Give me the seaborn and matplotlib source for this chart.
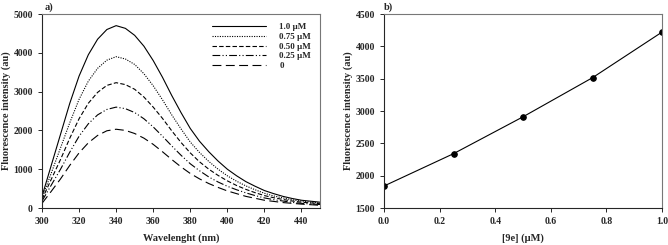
import numpy as np
import pandas as pd
import seaborn as sns
import matplotlib.pyplot as plt

###### data ######
wavelength = list(range(300, 451, 5))
conc_labels = ['1.0 µM', '0.75 µM', '0.50 µM', '0.25 µM', '0']
i_100 = [300, 1100, 1900, 2700, 3400, 3950, 4350, 4600, 4700, 4630, 4450, 4170, 3800, 3370, 2900, 2460,
         2050, 1720, 1450, 1210, 1000, 830, 680, 560, 450, 370, 300, 245, 200, 175, 150]
i_075 = [250, 900, 1550, 2200, 2800, 3270, 3600, 3810, 3900, 3840, 3700, 3460, 3150, 2790, 2400, 2040,
         1700, 1430, 1200, 1000, 830, 690, 570, 470, 380, 310, 260, 210, 180, 150, 130]
i_050 = [220, 740, 1250, 1800, 2300, 2700, 2980, 3160, 3230, 3180, 3060, 2860, 2600, 2310, 1990, 1690,
         1420, 1190, 1000, 840, 700, 580, 480, 395, 320, 265, 220, 180, 150, 130, 110]
i_025 = [180, 590, 1000, 1440, 1850, 2170, 2400, 2540, 2600, 2560, 2460, 2300, 2090, 1850, 1600, 1360,
         1140, 960, 800, 670, 560, 470, 390, 320, 260, 215, 180, 145, 120, 105, 90]
i_000 = [120, 430, 750, 1100, 1420, 1680, 1870, 1990, 2030, 2000, 1920, 1800, 1640, 1450, 1250, 1060,
         890, 750, 630, 530, 440, 370, 300, 250, 200, 170, 140, 120, 100, 85, 70]

conc = [0.0, 0.25, 0.5, 0.75, 1.0]
peak = [1840, 2340, 2910, 3515, 4220]

spec = pd.DataFrame({
    'wl': wavelength * 5,
    'F': i_100 + i_075 + i_050 + i_025 + i_000,
    'conc': sum([[c] * len(wavelength) for c in conc_labels], []),
})
titr = pd.DataFrame({'c': conc, 'F': peak})

###### style ######
sns.set_style('ticks')
plt.rcParams.update({
    'font.family': ['Liberation Serif', 'DejaVu Serif'],
    'font.weight': 'bold',
    'axes.labelweight': 'bold',
    'font.size': 7,
    'axes.linewidth': 0.8,
    'xtick.major.size': 3,
    'ytick.major.size': 3,
    'xtick.major.width': 0.7,
    'ytick.major.width': 0.7,
})

fig = plt.figure(figsize=(6.68, 2.45), dpi=100)
ax1 = fig.add_axes([42/668, 1 - 208/245, 278/668, 194/245])
ax2 = fig.add_axes([384/668, 1 - 208/245, 278/668, 194/245])

dashes = {
    '1.0 µM': '',
    '0.75 µM': (1, 1.2),
    '0.50 µM': (4, 2),
    '0.25 µM': (7, 2, 1, 2, 1, 2),
    '0': (8, 4),
}
sns.lineplot(data=spec, x='wl', y='F', style='conc', style_order=conc_labels,
             dashes=dashes, color='black', linewidth=0.8, ax=ax1)
ax1.set(xlim=(300, 450), ylim=(0, 5000),
        xticks=np.arange(300, 460, 20), yticks=np.arange(0, 5001, 1000))
ax1.set_xlabel('Wavelenght (nm)', fontsize=7.5, labelpad=5)
ax1.set_ylabel('Fluorescence intensity (au)', fontsize=7.5, labelpad=2)
leg = ax1.legend(frameon=False, handlelength=6, fontsize=6.5, loc='upper right',
                 labelspacing=0.15, borderaxespad=0.6, handletextpad=1.5)
ax1.text(0.01, 1.02, 'a)', transform=ax1.transAxes, fontsize=7.5, fontweight='bold')

sns.lineplot(data=titr, x='c', y='F', color='black', linewidth=0.8, marker='o',
             markersize=4, markeredgecolor='black', ax=ax2)
ax2.set(xlim=(0, 1), ylim=(1500, 4500),
        xticks=np.arange(0, 1.01, 0.2), yticks=np.arange(1500, 4501, 500))
ax2.xaxis.set_major_formatter(plt.FormatStrFormatter('%.1f'))
ax2.set_xlabel('[9e] (µM)', fontsize=7.5, labelpad=5)
ax2.set_ylabel('Fluorescence intensity (au)', fontsize=7.5, labelpad=2)
ax2.text(0.0, 1.02, 'b)', transform=ax2.transAxes, fontsize=7.5, fontweight='bold')

for ax in (ax1, ax2):
    for lab in ax.get_xticklabels() + ax.get_yticklabels():
        lab.set_fontweight('bold')
    for s in ('top', 'right'):
        ax.spines[s].set_visible(True)
        ax.spines[s].set_color('#777777')

fig.savefig('out.png', dpi=100)
